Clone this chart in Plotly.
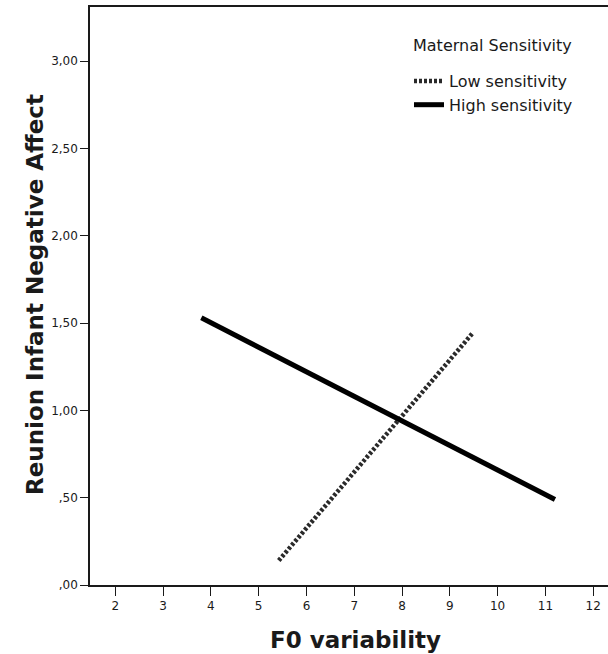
import plotly.graph_objects as go

# Data
series_names = ["Low sensitivity", "High sensitivity"]
legend_title = "Maternal Sensitivity"
low_x = [5.42, 9.47]
low_y = [0.14, 1.44]
high_x = [3.80, 11.20]
high_y = [1.53, 0.49]

x_ticks = [2, 3, 4, 5, 6, 7, 8, 9, 10, 11, 12]
y_ticks = [0.0, 0.5, 1.0, 1.5, 2.0, 2.5, 3.0]
y_tick_labels = [",00", ",50", "1,00", "1,50", "2,00", "2,50", "3,00"]

FONT = "DejaVu Sans"
INK = "#1a1a1a"

fig = go.Figure()
fig.add_trace(go.Scatter(
    x=low_x, y=low_y, mode="lines", name=series_names[0],
    line=dict(color="#2a2a2a", width=4.5, dash="3px,2px"),
))
fig.add_trace(go.Scatter(
    x=high_x, y=high_y, mode="lines", name=series_names[1],
    line=dict(color="#000000", width=5),
))

fig.update_layout(
    width=608, height=654,
    margin=dict(l=90, r=0, t=7, b=69),
    paper_bgcolor="white", plot_bgcolor="white",
    font=dict(family=FONT, color=INK),
    showlegend=True,
    legend=dict(
        font=dict(size=16, family=FONT, color=INK),
        x=(409 - 90) / 518, xanchor="left",
        y=(585 - 64) / 578, yanchor="top",
        bgcolor="rgba(0,0,0,0)",
        itemwidth=30,
        tracegroupgap=0,
    ),
    xaxis=dict(
        range=[1.47, 12.31],
        tickmode="array", tickvals=x_ticks,
        ticks="outside", ticklen=9, tickwidth=1, tickcolor=INK,
        showline=True, linecolor=INK, linewidth=1.5, mirror=True,
        showgrid=False, zeroline=False,
        tickfont=dict(family=FONT, size=12, color=INK),
    ),
    yaxis=dict(
        range=[0, 3.31],
        tickmode="array", tickvals=y_ticks, ticktext=y_tick_labels,
        ticks="outside", ticklen=8, tickwidth=1, tickcolor=INK,
        showline=True, linecolor=INK, linewidth=1.5,
        showgrid=False, zeroline=False,
        tickfont=dict(family=FONT, size=12, color=INK),
    ),
    annotations=[
        dict(text=legend_title, xref="paper", yref="paper",
             x=(411 - 90) / 518, y=(585 - 45) / 578, xanchor="left", yanchor="middle",
             showarrow=False, font=dict(family=FONT, size=16, color=INK)),
        dict(text="<b>F0 variability</b>", xref="paper", yref="paper",
             x=(355 - 90) / 518, y=(585 - 640) / 578, xanchor="center", yanchor="middle",
             showarrow=False, font=dict(family=FONT, size=23, color=INK)),
        dict(text="<b>Reunion Infant Negative Affect</b>", xref="paper", yref="paper",
             x=(35 - 90) / 518, y=(585 - 295) / 578, xanchor="center", yanchor="middle",
             textangle=-90, showarrow=False, font=dict(family=FONT, size=23, color=INK)),
    ],
)

fig.write_html(
    "out.html",
    config={"displayModeBar": False},
    post_script="document.body.style.margin='0px';document.body.style.padding='0px';document.body.style.overflow='hidden';",
)
